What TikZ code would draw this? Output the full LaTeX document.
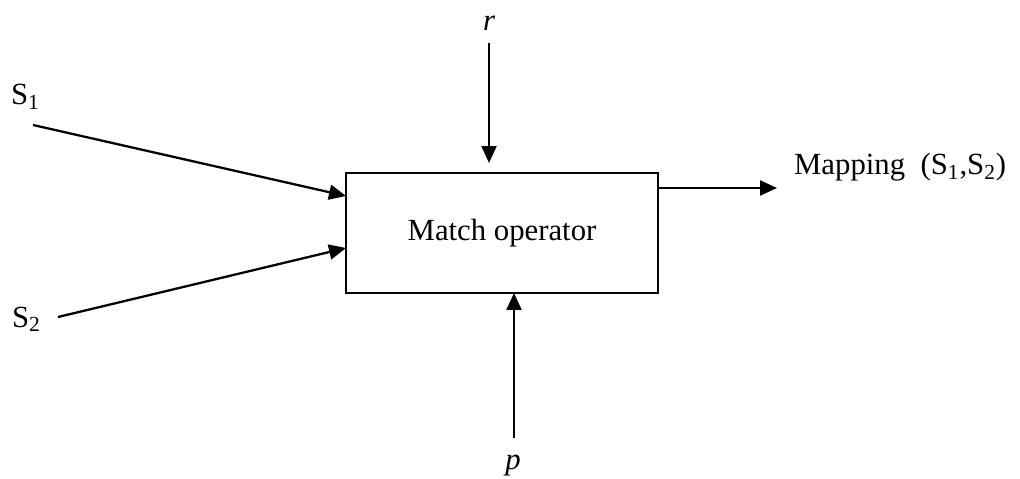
\documentclass[tikz,border=0pt]{standalone}
\usepackage{fontspec}
\setmainfont{Liberation Serif}
\usetikzlibrary{arrows.meta}

\begin{document}
\begin{tikzpicture}[x=0.02cm, y=-0.02cm, font=\fontsize{17.5}{20}\selectfont,
    >={Triangle[length=3.4mm, width=3mm]}, line width=1.3pt,
    lbl/.style={inner sep=0pt}]
        \useasboundingbox (0, 0) rectangle (1020, 479);
        \node[draw, line width=1pt, inner sep=0pt, minimum width=6.24cm, minimum height=2.4cm] (match) at (502, 233) {Match operator};
        \node[lbl, anchor=base west] (s1) at (10, 105) {S\textsubscript{1}};
        \node[lbl, anchor=base west] (s2) at (11, 327) {S\textsubscript{2}};
        \node[lbl, anchor=base] (r) at (489, 31) {\itshape r};
        \node[lbl, anchor=base] (p) at (513, 469) {\itshape p};
        \node[lbl, anchor=base west] (mapping) at (793, 175) {Mapping\ \ (S\textsubscript{1},S\textsubscript{2})};
        \coordinate (s1out) at (33, 125);
        \coordinate (s1in) at (346, 196);
        \coordinate (s2out) at (58, 317);
        \coordinate (s2in) at (346, 248);
        \coordinate (rout) at (489, 43);
        \coordinate (rin) at (489, 163);
        \coordinate (pout) at (514, 438);
        \coordinate (pin) at (514, 293);
        \coordinate (mapout) at (658, 188);
        \coordinate (mapin) at (777, 188);
        \draw[->] (s1out) -- (s1in);
        \draw[->] (s2out) -- (s2in);
        \draw[->] (rout) -- (rin);
        \draw[->] (pout) -- (pin);
        \draw[->] (mapout) -- (mapin);
      \end{tikzpicture}
\end{document}
